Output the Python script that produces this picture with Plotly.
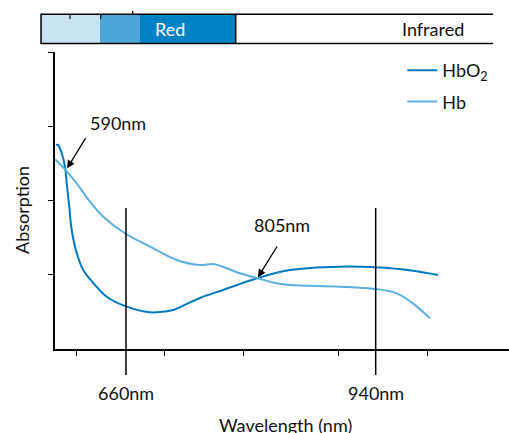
import plotly.graph_objects as go

# ---- data ----
hbo2_nm = [581.5, 583.5, 587.9, 591.6, 593.5, 596.4, 599.1, 604.7, 612.1, 623.3, 638.4,
           660.8, 686.9, 700.0, 712.7, 727.0, 743.0, 768.8, 808.0, 843.9, 900.0, 939.2, 981.8, 1009.8]
hbo2_abs = [2.747, 2.751, 2.640, 2.455, 2.236, 1.916, 1.603, 1.293, 1.064, 0.889, 0.704,
            0.570, 0.494, 0.500, 0.525, 0.600, 0.687, 0.795, 0.956, 1.064, 1.108, 1.100, 1.055, 0.997]

hb_nm = [580.4, 591.6, 604.7, 619.6, 634.5, 660.0, 686.9, 716.9, 743.0, 757.9, 768.8,
         787.8, 808.0, 829.0, 843.9, 900.0, 939.2, 963.5, 981.8, 1000.9]
hb_abs = [2.555, 2.420, 2.232, 1.984, 1.782, 1.549, 1.380, 1.199, 1.131, 1.145, 1.108,
          1.020, 0.952, 0.885, 0.862, 0.839, 0.808, 0.750, 0.615, 0.413]

x_ticks = [604.7, 703.7, 792.3, 898.8, 998.3]
marker_nm = [660, 940]
marker_labels = ["660nm", "940nm"]
crossings = [(594, 2.434, "590nm"), (808, 0.966, "805nm")]

FONT = "Lato"
FS = 18
DARK = "#0079c2"
LIGHT = "#5aafe0"
TXT = "#111"

fig = go.Figure()
fig.add_trace(go.Scatter(x=hbo2_nm, y=hbo2_abs, mode="lines", name="HbO<sub>2</sub>",
                         line=dict(color=DARK, width=2, shape="spline", smoothing=1.0),
                         legendgroup="a"))
fig.add_trace(go.Scatter(x=hb_nm, y=hb_abs, mode="lines", name="Hb",
                         line=dict(color=LIGHT, width=2, shape="spline", smoothing=1.0),
                         legendgroup="b"))

shapes = []
annotations = []

# vertical marker lines
for nm, lab in zip(marker_nm, marker_labels):
    shapes.append(dict(type="line", xref="x", yref="paper", x0=nm, x1=nm, y0=-0.0875, y1=0.475,
                       line=dict(color="black", width=1.5)))
    annotations.append(dict(xref="x", yref="paper", x=nm, y=-0.148, text=lab, showarrow=False,
                            font=dict(size=FS, color=TXT), xanchor="center", yanchor="middle"))

# crossing arrows + labels
arrow_offsets = [(19.4, -31.6, 50.7, 45.3), (20.0, -32.3, 24.0, 52.3)]
for (xv, yv, lab), (ax, ay, xs, ys) in zip(crossings, arrow_offsets):
    annotations.append(dict(x=xv, y=yv, xref="x", yref="y", text="", showarrow=True,
                            ax=ax, ay=ay, arrowhead=2, arrowsize=1.2, arrowwidth=1.3,
                            arrowcolor="black"))
    annotations.append(dict(x=xv, y=yv, xref="x", yref="y", text=lab, showarrow=False,
                            xshift=xs, yshift=ys, xanchor="center", yanchor="middle",
                            font=dict(size=FS, color=TXT)))

# spectral band bar at the top
band_edges = [-0.0308, 0.0991, 0.1872, 0.398]
band_colors = ["#c8e4f3", "#4ea7d9", "#0081c6"]
by0, by1 = 1.029, 1.127
for i, c in enumerate(band_colors):
    shapes.append(dict(type="rect", xref="paper", yref="paper", x0=band_edges[i], x1=band_edges[i + 1],
                       y0=by0, y1=by1, fillcolor=c, line=dict(width=0), layer="below"))
shapes.append(dict(type="rect", xref="paper", yref="paper", x0=band_edges[0], x1=band_edges[-1],
                   y0=by0, y1=by1, line=dict(color="black", width=1.5), layer="below"))
for yy in (by0, by1):
    shapes.append(dict(type="line", xref="paper", yref="paper", x0=band_edges[-1], x1=0.9648,
                       y0=yy, y1=yy, line=dict(color="black", width=1.5)))
for xx, ya, yb in [(0.033, 1.111, by1), (0.1007, 1.111, by1), (0.171, by1, 1.138)]:
    shapes.append(dict(type="line", xref="paper", yref="paper", x0=xx, x1=xx, y0=ya, y1=yb,
                       line=dict(color="black", width=1.2)))
annotations.append(dict(xref="paper", yref="paper", x=0.253, y=1.078, text="Red", showarrow=False,
                        xanchor="center", yanchor="middle", font=dict(size=FS, color="white")))
annotations.append(dict(xref="paper", yref="paper", x=0.8326, y=1.078, text="Infrared", showarrow=False,
                        xanchor="center", yanchor="middle", font=dict(size=FS, color=TXT)))

# axis titles
annotations.append(dict(xref="paper", yref="paper", x=0.507, y=-0.256, text="Wavelength (nm)",
                        showarrow=False, font=dict(size=FS, color=TXT), xanchor="center", yanchor="middle"))
annotations.append(dict(xref="paper", yref="paper", x=-0.0727, y=0.468, text="Absorption",
                        showarrow=False, textangle=-90, xanchor="center", yanchor="middle",
                        font=dict(size=FS, color=TXT)))

fig.update_layout(
    width=509, height=433,
    margin=dict(l=55, r=0, t=52, b=84),
    paper_bgcolor="white", plot_bgcolor="white",
    font=dict(family=FONT, size=FS, color=TXT),
    showlegend=True,
    legend=dict(x=0.765, y=1.0, xanchor="left", yanchor="top", bgcolor="rgba(0,0,0,0)",
                font=dict(size=FS), tracegroupgap=5, traceorder="grouped"),
    shapes=shapes, annotations=annotations,
    xaxis=dict(range=[580.4, 1089.5], showgrid=False, zeroline=False, showline=True,
               linecolor="black", linewidth=1.5, ticks="outside", ticklen=5, tickwidth=1.2,
               tickcolor="black", tickvals=x_ticks, showticklabels=False),
    yaxis=dict(range=[0, 4], showgrid=False, zeroline=False, showline=True,
               linecolor="black", linewidth=1.5, ticks="outside", ticklen=5, tickwidth=1.2,
               tickcolor="black", tickvals=[1, 2, 3, 4], showticklabels=False),
)

fig.write_html("out.html")
